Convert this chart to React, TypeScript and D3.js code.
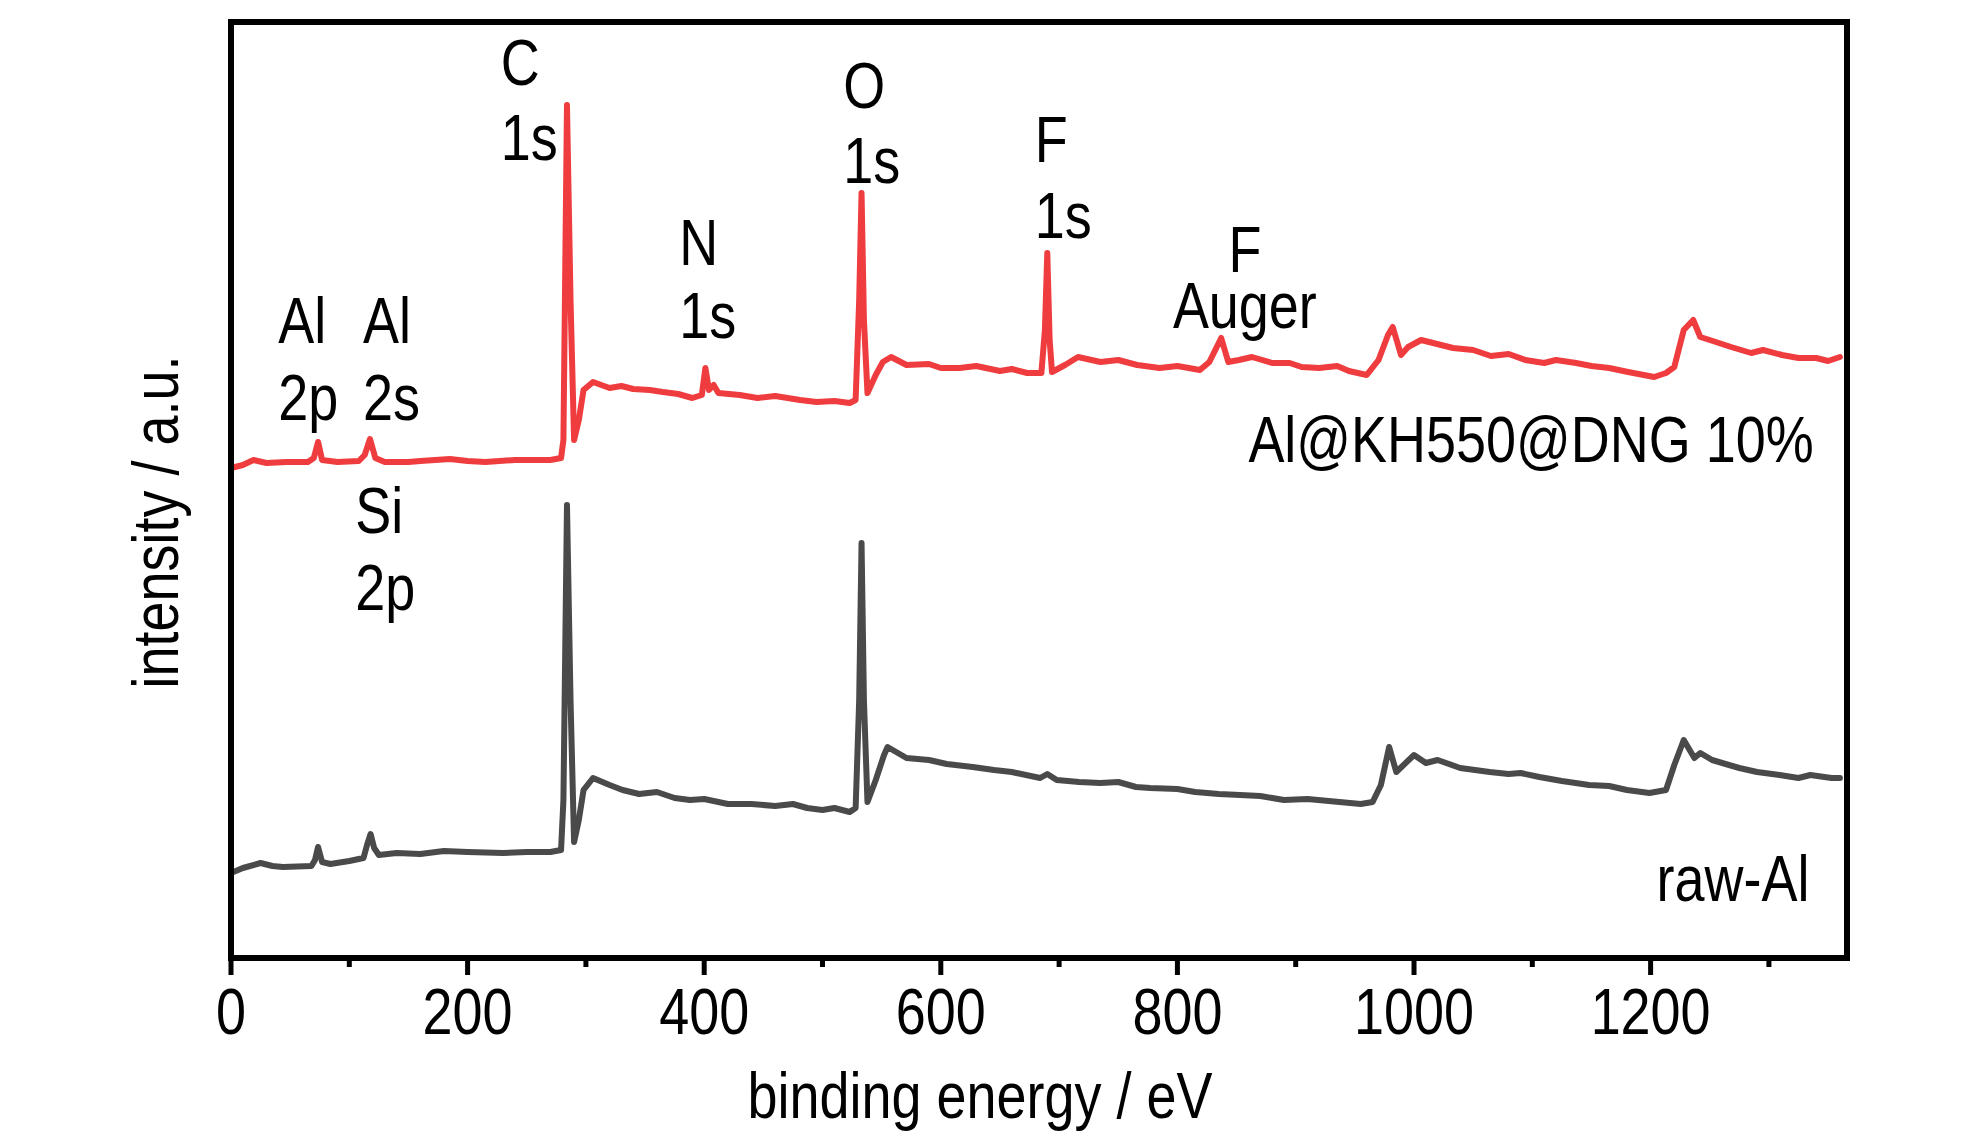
import * as d3 from "d3";

// binding energy (eV) / intensity (a.u.)
const dngEnergy = [
  0, 10, 19, 30, 47, 65, 70, 73.6, 77, 90, 108, 113, 117.5, 122, 130, 150, 160, 185, 200, 215,
  240, 250, 270, 279, 281, 284, 287, 290, 294, 298, 306, 320, 330, 340, 354, 365, 378, 390,
  398, 401, 404, 408, 412, 430, 445, 460, 481, 495, 510, 523, 528, 531, 533, 535, 538, 545,
  551, 558, 571, 590, 600, 616, 630, 650, 660, 673, 685, 688, 690, 692, 694, 705, 716, 735,
  750, 766, 785, 800, 819, 827, 837, 843, 852, 863, 880, 895, 905, 920, 935, 945, 960, 970,
  978, 982, 989, 995, 1006, 1033, 1050, 1065, 1080, 1094, 1110, 1120, 1137, 1150, 1165, 1181,
  1203, 1213, 1220, 1228, 1236, 1242, 1250, 1268, 1285, 1295, 1311, 1325, 1340, 1350, 1360,
];
const dngIntensity = [
  49.0, 49.3, 49.8, 49.5, 49.6, 49.6, 50.0, 51.6, 49.8, 49.6, 49.7, 50.3, 51.9, 50.0, 49.6, 49.6, 49.7, 49.9, 49.7, 49.6,
  49.8, 49.8, 49.8, 50.0, 51.8, 85.3, 65.8, 51.8, 53.8, 56.8, 57.6, 57.0, 57.2, 56.9, 56.8, 56.6, 56.4, 56.0,
  56.3, 59.0, 56.8, 57.3, 56.5, 56.3, 56.0, 56.2, 55.8, 55.6, 55.7, 55.5, 55.8, 65.8, 76.5, 63.8, 56.5, 58.3,
  59.6, 60.1, 59.3, 59.4, 59.0, 59.0, 59.2, 58.7, 58.9, 58.5, 58.5, 62.8, 70.5, 61.8, 58.6, 59.3, 60.1, 59.6,
  59.8, 59.3, 59.0, 59.2, 58.8, 59.6, 62.0, 59.6, 59.8, 60.1, 59.5, 59.5, 59.1, 59.0, 59.2, 58.7, 58.3, 59.8,
  62.3, 63.1, 60.3, 61.1, 61.8, 61.0, 60.8, 60.2, 60.4, 59.8, 59.5, 59.8, 59.5, 59.2, 59.0, 58.6,
  58.1, 58.5, 59.1, 62.8, 63.8, 62.1, 61.8, 61.1, 60.5, 60.8, 60.3, 60.0, 60.0, 59.7, 60.1,
];

const rawEnergy = [
  0, 10, 25, 35, 44, 68, 71, 73.6, 77, 84, 100, 112, 115, 118, 121, 125, 140, 160, 180, 200,
  230, 250, 270, 279, 281, 284, 287, 290, 294, 298, 306, 320, 331, 345, 360, 375, 388, 400,
  420, 440, 460, 475, 487, 500, 510, 523, 528, 531, 533, 535, 538, 545, 552, 555, 571, 590,
  605, 627, 645, 660, 684, 690, 698, 717, 735, 750, 765, 777, 800, 815, 835, 853, 870, 890,
  910, 937, 955, 965, 972, 979, 985, 1000, 1010, 1020, 1039, 1064, 1080, 1090, 1106, 1125,
  1148, 1165, 1180, 1199, 1213, 1220, 1228, 1237, 1242, 1252, 1275, 1290, 1309, 1325, 1335,
  1353, 1360,
];
const rawIntensity = [
  8.5, 9.0, 9.5, 9.2, 9.1, 9.2, 9.8, 11.1, 9.6, 9.4, 9.7, 10.0, 11.3, 12.4, 11.0, 10.3, 10.5, 10.4, 10.7, 10.6,
  10.5, 10.6, 10.6, 10.8, 15.8, 45.3, 25.8, 11.6, 13.8, 16.8, 18.0, 17.3, 16.8, 16.4, 16.6, 16.0, 15.8, 15.9,
  15.4, 15.4, 15.2, 15.4, 15.0, 14.8, 15.0, 14.6, 15.0, 25.8, 41.5, 25.8, 15.6, 17.8, 20.3, 21.1, 20.0, 19.8,
  19.4, 19.1, 18.8, 18.6, 18.0, 18.4, 17.8, 17.6, 17.5, 17.6, 17.1, 17.0, 16.9, 16.6, 16.4, 16.3, 16.2, 15.8,
  15.9, 15.6, 15.4, 15.6, 17.3, 21.1, 18.6, 20.3, 19.5, 19.8, 19.0, 18.6, 18.4, 18.5, 18.1, 17.7,
  17.3, 17.2, 16.8, 16.5, 16.8, 19.3, 21.8, 20.0, 20.5, 19.8, 19.0, 18.6, 18.3, 18.0, 18.3,
  18.0, 18.0,
];

const majorTicks = [0, 200, 400, 600, 800, 1000, 1200];
const minorTicks = [100, 300, 500, 700, 900, 1100, 1300];

// peak labels: lines of text, anchored at (energy, intensity) of the first line
const peakLabels = [
  { lines: ["Al", "2p"], e: 40, i: 61.5, gap: 7.7 },
  { lines: ["Al", "2s"], e: 111.5, i: 61.5, gap: 7.7 },
  { lines: ["Si", "2p"], e: 105, i: 42.5, gap: 7.7 },
  { lines: ["C", "1s"], e: 228, i: 87.3, gap: 7.5 },
  { lines: ["N", "1s"], e: 379, i: 69.3, gap: 7.3 },
  { lines: ["O", "1s"], e: 517.5, i: 85.0, gap: 7.5 },
  { lines: ["F", "1s"], e: 679.5, i: 79.6, gap: 7.6 },
];
const augerLabel = { top: "F", bottom: "Auger", e: 857, i: 68.6, gap: 5.6 };
const seriesNames = [
  { name: "Al@KH550@DNG 10%", e: 860, i: 49.6 },
  { name: "raw-Al", e: 1205, i: 5.7 },
];

const W = 1984;
const H = 1134;
const LEFT = 231;
const RIGHT = 1847;
const TOP = 22;
const BOTTOM = 958;
const FONT = "'Liberation Sans', Arial, sans-serif";
const FS = 65;
const SX = 0.83;

function Txt({ x, y, children, anchor = "start", rotate = 0, size = FS }: any) {
  return (
    <text
      transform={`translate(${x},${y}) rotate(${rotate}) scale(${SX},1)`}
      textAnchor={anchor}
      fontFamily={FONT}
      fontSize={size}
      fill="#000"
    >
      {children}
    </text>
  );
}

export default function App() {
  const x = d3.scaleLinear().domain([0, 1366]).range([LEFT, RIGHT]);
  const y = d3.scaleLinear().domain([0, 93.6]).range([BOTTOM, TOP]);

  const line = d3
    .line<[number, number]>()
    .x((d) => x(d[0]))
    .y((d) => y(d[1]))
    .curve(d3.curveLinear);

  const dng = dngEnergy.map((e, k) => [e, dngIntensity[k]] as [number, number]);
  const raw = rawEnergy.map((e, k) => [e, rawIntensity[k]] as [number, number]);

  return (
    <svg
      width={W}
      height={H}
      viewBox={`0 0 ${W} ${H}`}
      style={{ position: "absolute", left: 0, top: 0, background: "#fff" }}
    >
      <path d={line(raw) || ""} fill="none" stroke="#4a4a4a" strokeWidth={6} strokeLinejoin="round" strokeLinecap="round" />
      <path d={line(dng) || ""} fill="none" stroke="#ef3d3f" strokeWidth={6} strokeLinejoin="round" strokeLinecap="round" />

      {/* frame */}
      <rect x={LEFT} y={TOP} width={RIGHT - LEFT} height={BOTTOM - TOP} fill="none" stroke="#000" strokeWidth={6} />

      {majorTicks.map((t) => (
        <g key={t}>
          <line x1={x(t)} x2={x(t)} y1={BOTTOM} y2={BOTTOM + 17} stroke="#000" strokeWidth={5} />
          <Txt x={x(t)} y={1034} anchor="middle">{t}</Txt>
        </g>
      ))}
      {minorTicks.map((t) => (
        <line key={t} x1={x(t)} x2={x(t)} y1={BOTTOM} y2={BOTTOM + 9} stroke="#000" strokeWidth={5} />
      ))}

      <Txt x={980} y={1118} anchor="middle">binding energy / eV</Txt>
      <Txt x={178} y={522} anchor="middle" rotate={-90}>intensity / a.u.</Txt>

      {peakLabels.map((p) =>
        p.lines.map((s, k) => (
          <Txt key={p.e + s + k} x={x(p.e)} y={y(p.i - k * p.gap)}>{s}</Txt>
        ))
      )}
      <Txt x={x(augerLabel.e)} y={y(augerLabel.i)} anchor="middle">{augerLabel.top}</Txt>
      <Txt x={x(augerLabel.e)} y={y(augerLabel.i - augerLabel.gap)} anchor="middle">{augerLabel.bottom}</Txt>

      {seriesNames.map((s) => (
        <Txt key={s.name} x={x(s.e)} y={y(s.i)}>{s.name}</Txt>
      ))}
    </svg>
  );
}
